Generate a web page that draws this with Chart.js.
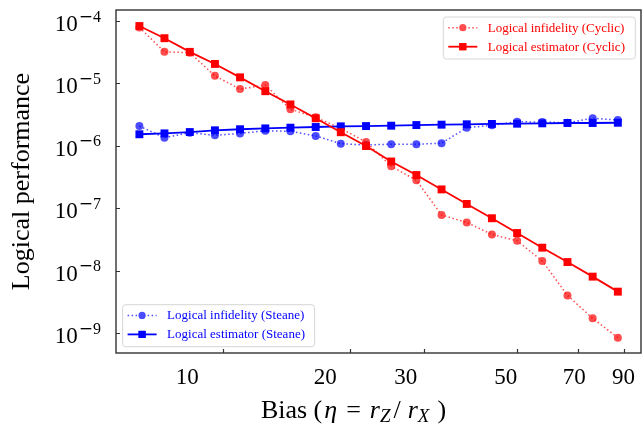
<!DOCTYPE html>
<html>
<head>
<meta charset="utf-8">
<script src="https://cdn.jsdelivr.net/npm/chart.js@4.4.1/dist/chart.umd.min.js"></script>
<style>
  html, body { margin: 0; padding: 0; background: #fff; }
  #wrap { width: 642px; height: 425px; }
</style>
</head>
<body>
<div id="wrap"><canvas id="chart" width="642" height="425"></canvas></div>
<script>
// Bias values eta = r_Z / r_X used in the simulations
const bias = [6.31, 7.24, 8.32, 9.55, 10.96, 12.59, 14.45, 16.6, 19.05, 21.88,
              25.12, 28.84, 33.11, 38.02, 43.65, 50.12, 57.54, 66.07, 75.86, 87.1];

// Cyclic code
const cyclicInfidelity = [7.9e-5, 3.2e-5, 3.1e-5, 1.32e-5, 8.1e-6, 9.4e-6, 3.85e-6, 2.86e-6, 1.9e-6, 1.15e-6,
                          4.7e-7, 2.8e-7, 7.8e-8, 5.9e-8, 3.8e-8, 3.0e-8, 1.43e-8, 4.0e-9, 1.72e-9, 8.4e-10];
const cyclicEstimator = [8.3e-5, 5.3e-5, 3.2e-5, 2.05e-5, 1.25e-5, 7.5e-6, 4.6e-6, 2.76e-6, 1.65e-6, 9.9e-7,
                         5.6e-7, 3.4e-7, 2.0e-7, 1.17e-7, 6.9e-8, 4.0e-8, 2.33e-8, 1.37e-8, 8.0e-9, 4.6e-9];

// Steane code
const steaneInfidelity = [2.07e-6, 1.35e-6, 1.62e-6, 1.47e-6, 1.58e-6, 1.74e-6, 1.71e-6, 1.44e-6, 1.08e-6, 1.03e-6,
                          1.06e-6, 1.06e-6, 1.1e-6, 1.95e-6, 2.13e-6, 2.43e-6, 2.4e-6, 2.34e-6, 2.76e-6, 2.59e-6];
const steaneEstimator = [1.53e-6, 1.58e-6, 1.66e-6, 1.77e-6, 1.84e-6, 1.9e-6, 1.95e-6, 2.0e-6, 2.05e-6, 2.07e-6,
                         2.1e-6, 2.15e-6, 2.18e-6, 2.21e-6, 2.24e-6, 2.26e-6, 2.29e-6, 2.32e-6, 2.32e-6, 2.34e-6];

// Axis ticks
const xTickMarks = [10, 20, 30, 50, 70, 90];
const xTickLabels = ['10', '20', '30', '50', '70', '90'];
const xLabelAt = [8.2, 17.5, 27.2, 47.1, 68.6, 89.8];
const yTickValues = [1e-4, 1e-5, 1e-6, 1e-7, 1e-8, 1e-9];
const yTickExponents = ['4', '5', '6', '7', '8', '9'];

const SERIF = "'Liberation Serif', 'Times New Roman', serif";
const MINUS_FONT = "'DejaVu Serif', serif";
const RED = '#ff0000', RED_A = 'rgba(255,0,0,0.7)';
const BLUE = '#0000ff', BLUE_A = 'rgba(0,0,255,0.7)';

function toPoints(values) {
  return values.map((v, i) => ({ x: bias[i], y: v }));
}

function infidelitySeries(label, values, color) {
  return {
    label, data: toPoints(values),
    borderColor: color, backgroundColor: color,
    borderWidth: 1.5, borderDash: [1.5, 2.5],
    pointStyle: 'circle', pointRadius: 4, pointBorderWidth: 0,
    pointBackgroundColor: color, order: 2
  };
}

function estimatorSeries(label, values, color) {
  return {
    label, data: toPoints(values),
    borderColor: color, backgroundColor: color,
    borderWidth: 1.8,
    pointStyle: 'rect', pointRadius: 5.6, pointBorderWidth: 0,
    pointBackgroundColor: color, order: 1
  };
}

const datasets = [
  infidelitySeries('Logical infidelity (Cyclic)', cyclicInfidelity, RED_A),
  estimatorSeries('Logical estimator (Cyclic)', cyclicEstimator, RED),
  infidelitySeries('Logical infidelity (Steane)', steaneInfidelity, BLUE_A),
  estimatorSeries('Logical estimator (Steane)', steaneEstimator, BLUE)
];

// Draw one legend box with a line + marker sample per entry
function drawLegend(ctx, chart, indices, left, top, textColor) {
  const w = 192, h = 42, rowGap = 19, firstRow = 10.7;
  ctx.save();
  ctx.beginPath();
  ctx.roundRect(left, top, w, h, 3);
  ctx.fillStyle = 'rgba(255,255,255,0.85)';
  ctx.fill();
  ctx.strokeStyle = '#d6d6d6';
  ctx.lineWidth = 1;
  ctx.stroke();
  indices.forEach((di, r) => {
    const ds = chart.data.datasets[di];
    const cy = top + firstRow + r * rowGap;
    ctx.save();
    ctx.strokeStyle = ds.borderColor;
    ctx.lineWidth = ds.borderWidth;
    ctx.setLineDash(ds.borderDash || []);
    ctx.beginPath();
    ctx.moveTo(left + 5, cy);
    ctx.lineTo(left + 34, cy);
    ctx.stroke();
    ctx.restore();
    Chart.helpers.drawPoint(ctx, {
      pointStyle: ds.pointStyle, radius: ds.pointStyle === 'rect' ? 5 : 3.6,
      borderWidth: 0, rotation: 0
    }, left + 19.5, cy);
    ctx.fillStyle = ds.pointBackgroundColor;
    ctx.fill();
    ctx.fillStyle = textColor;
    ctx.font = '13px ' + SERIF;
    ctx.textAlign = 'left';
    ctx.textBaseline = 'middle';
    ctx.fillText(ds.label, left + 44.5, cy + 0.5);
  });
  ctx.restore();
}

const decorations = {
  id: 'decorations',
  afterDraw(chart) {
    const { ctx, chartArea: a, scales: { x, y } } = chart;
    ctx.save();

    // axes frame
    ctx.strokeStyle = '#333';
    ctx.lineWidth = 1.4;
    ctx.strokeRect(a.left, a.top, a.right - a.left, a.bottom - a.top);

    // inward tick marks
    ctx.beginPath();
    xTickMarks.forEach(v => {
      const px = Math.round(x.getPixelForValue(v)) + 0.5;
      ctx.moveTo(px, a.bottom);
      ctx.lineTo(px, a.bottom - 4);
    });
    yTickValues.forEach(v => {
      const py = Math.round(y.getPixelForValue(v)) + 0.5;
      ctx.moveTo(a.left, py);
      ctx.lineTo(a.left + 4, py);
    });
    ctx.lineWidth = 1.2;
    ctx.stroke();

    // y tick labels: 10 with a raised negative exponent
    ctx.fillStyle = '#000';
    ctx.textAlign = 'right';
    ctx.textBaseline = 'alphabetic';
    const right = a.left - 15;
    yTickValues.forEach((v, i) => {
      const py = y.getPixelForValue(v);
      ctx.font = '16px ' + SERIF;
      const dw = ctx.measureText(yTickExponents[i]).width;
      ctx.fillText(yTickExponents[i], right, py + 0.7);
      ctx.font = '17px ' + MINUS_FONT;
      const mw = ctx.measureText('\u2212').width;
      ctx.fillText('\u2212', right - dw, py + 0.7);
      ctx.font = '23px ' + SERIF;
      ctx.fillText('10', right - dw - mw - 1, py + 10);
    });

    // x axis title with math notation
    const parts = [
      { t: 'Bias (', s: '', size: 26, dy: 0, gap: 0 },
      { t: '\u03b7', s: 'italic ', size: 26, dy: 0, gap: 2 },
      { t: '=', s: '', size: 26, dy: 0, gap: 9 },
      { t: 'r', s: 'italic ', size: 26, dy: 0, gap: 9 },
      { t: 'Z', s: 'italic ', size: 19, dy: 4, gap: 0 },
      { t: '/', s: '', size: 26, dy: 0, gap: 3 },
      { t: 'r', s: 'italic ', size: 26, dy: 0, gap: 7 },
      { t: 'X', s: 'italic ', size: 19, dy: 4, gap: 0 },
      { t: ')', s: '', size: 26, dy: 0, gap: 8 }
    ];
    let total = 0;
    parts.forEach(p => {
      ctx.font = p.s + p.size + 'px ' + SERIF;
      p.w = ctx.measureText(p.t).width;
      total += p.gap + p.w;
    });
    let cx = 353.5 - total / 2;
    const base = 418;
    ctx.textAlign = 'left';
    parts.forEach(p => {
      cx += p.gap;
      ctx.font = p.s + p.size + 'px ' + SERIF;
      ctx.fillText(p.t, cx, base + p.dy);
      cx += p.w;
    });
    ctx.restore();

    // legends
    drawLegend(ctx, chart, [0, 1], a.right - 5.7 - 192, a.top + 7, RED);
    drawLegend(ctx, chart, [2, 3], a.left + 6.6, a.bottom - 6.3 - 42, BLUE);
  }
};

new Chart(document.getElementById('chart'), {
  type: 'line',
  data: { datasets },
  options: {
    responsive: false,
    animation: false,
    layout: { autoPadding: false, padding: { top: 10, right: 1, left: 0, bottom: 0 } },
    plugins: { legend: { display: false }, tooltip: { enabled: false } },
    scales: {
      x: {
        type: 'logarithmic',
        min: 5.55, max: 98.9,
        grid: { display: false, drawTicks: false },
        border: { display: false },
        afterBuildTicks: s => { s.ticks = xLabelAt.map(v => ({ value: v })); },
        afterFit: s => { s.height = 72; s.paddingLeft = 0; s.paddingRight = 0; },
        ticks: {
          autoSkip: false, maxRotation: 0, padding: 11, color: '#000',
          font: { family: SERIF, size: 23 },
          callback: (v, i) => xTickLabels[i]
        }
      },
      y: {
        type: 'logarithmic',
        min: 4.78e-10, max: 1.5e-4,
        grid: { display: false, drawTicks: false },
        border: { display: false },
        ticks: { display: false },
        afterFit: s => { s.width = 116; s.paddingTop = 0; s.paddingBottom = 0; },
        title: {
          display: true, text: 'Logical performance', color: '#000',
          font: { family: SERIF, size: 26 }, padding: { top: 7, bottom: 0 }
        }
      }
    }
  },
  plugins: [decorations]
});
</script>
</body>
</html>
